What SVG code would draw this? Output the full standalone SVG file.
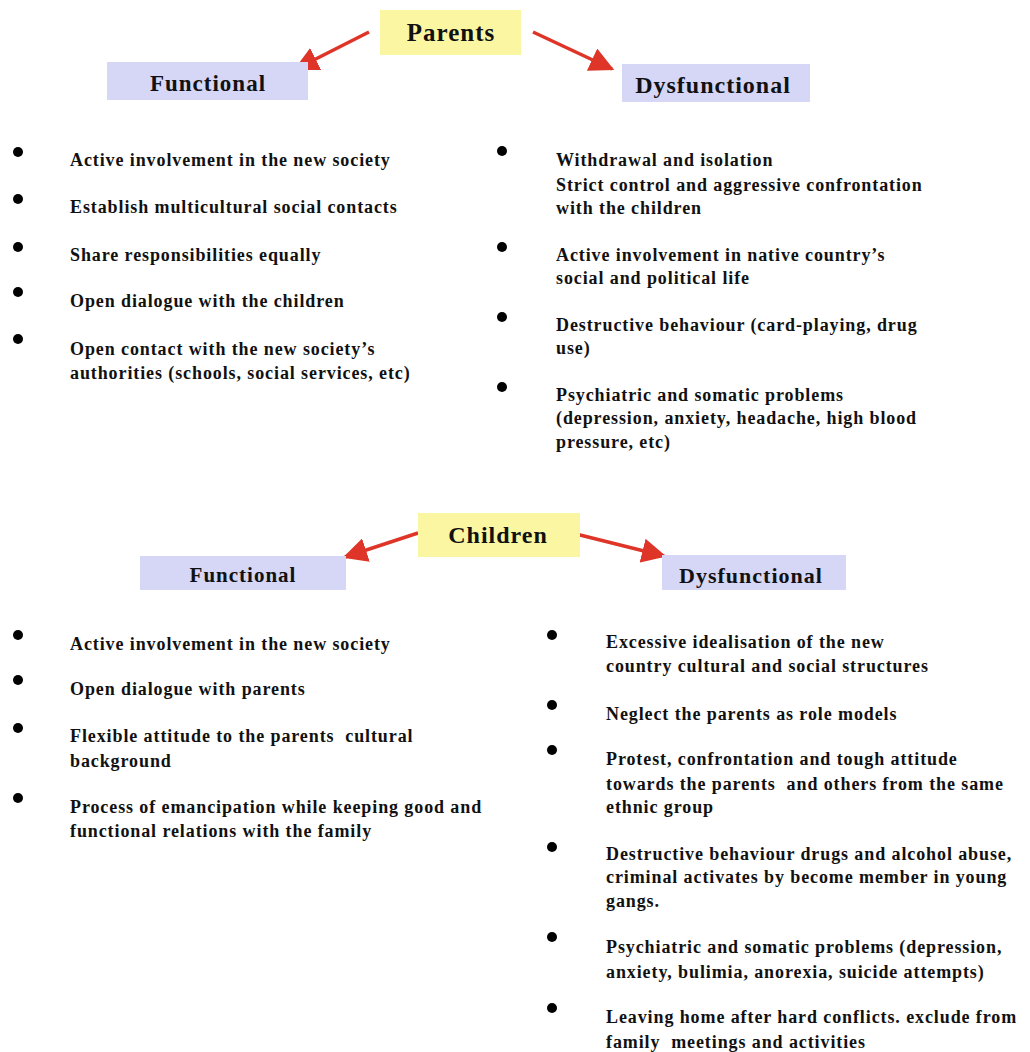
<svg xmlns="http://www.w3.org/2000/svg" width="1030" height="1052" viewBox="0 0 1030 1052">
<defs>
<style>
.hdr{font-family:"Liberation Serif","Times New Roman",serif;font-weight:bold;fill:#111;text-anchor:middle;letter-spacing:1px}
.t{font-family:"Liberation Serif","Times New Roman",serif;font-weight:bold;font-size:18px;fill:#111;letter-spacing:0.9px}
.yel{fill:#faf6a2}
.lav{fill:#d6d6f6}
.dot{fill:#000}
.arr{stroke:#de3528;stroke-width:3.5;fill:none;marker-end:url(#ah)}
</style>
<marker id="ah" viewBox="0 0 10 10" refX="9" refY="5" markerWidth="7" markerHeight="7" orient="auto" markerUnits="strokeWidth">
<path d="M0,0 L10,5 L0,10 z" fill="#de3528"/>
</marker>
</defs>
<rect width="1030" height="1052" fill="#fff"/>

<g id="connectors">
<line class="arr" x1="369" y1="32" x2="296" y2="69"/>
<line class="arr" x1="533" y1="32" x2="612" y2="69"/>
<line class="arr" x1="418" y1="533" x2="345" y2="557"/>
<line class="arr" x1="572" y1="533" x2="664" y2="556"/>
</g>

<g id="parents">
<rect class="yel" x="380" y="10" width="141" height="45"/>
<text class="hdr" x="451" y="41" font-size="25">Parents</text>
</g>
<g id="parents-functional">
<rect class="lav" x="107" y="62" width="201" height="38"/>
<text class="hdr" x="208" y="91" font-size="23">Functional</text>
</g>
<g id="parents-dysfunctional">
<rect class="lav" x="622" y="64" width="188" height="38"/>
<text class="hdr" x="713" y="93" font-size="24">Dysfunctional</text>
</g>

<g id="parents-functional-list">
<circle class="dot" cx="18" cy="152" r="5"/>
<text class="t" x="70" y="166">Active involvement in the new society</text>
<circle class="dot" cx="18" cy="199" r="5"/>
<text class="t" x="70" y="213">Establish multicultural social contacts</text>
<circle class="dot" cx="18" cy="247" r="5"/>
<text class="t" x="70" y="261">Share responsibilities equally</text>
<circle class="dot" cx="18" cy="292" r="5"/>
<text class="t" x="70" y="307">Open dialogue with the children</text>
<circle class="dot" cx="18" cy="339" r="5"/>
<text class="t" x="70" y="355">Open contact with the new society’s</text>
<text class="t" x="70" y="379">authorities (schools, social services, etc)</text>
</g>

<g id="parents-dysfunctional-list">
<circle class="dot" cx="502" cy="151" r="5"/>
<text class="t" x="556" y="166">Withdrawal and isolation</text>
<text class="t" x="556" y="191">Strict control and aggressive confrontation</text>
<text class="t" x="556" y="214">with the children</text>
<circle class="dot" cx="502" cy="247" r="5"/>
<text class="t" x="556" y="261">Active involvement in native country’s</text>
<text class="t" x="556" y="284">social and political life</text>
<circle class="dot" cx="502" cy="317" r="5"/>
<text class="t" x="556" y="331">Destructive behaviour (card-playing, drug</text>
<text class="t" x="556" y="354">use)</text>
<circle class="dot" cx="502" cy="387" r="5"/>
<text class="t" x="556" y="401">Psychiatric and somatic problems</text>
<text class="t" x="556" y="424">(depression, anxiety, headache, high blood</text>
<text class="t" x="556" y="448">pressure, etc)</text>
</g>

<g id="children">
<rect class="yel" x="418" y="513" width="162" height="44"/>
<text class="hdr" x="498" y="543" font-size="24">Children</text>
</g>
<g id="children-functional">
<rect class="lav" x="140" y="556" width="206" height="34"/>
<text class="hdr" x="243" y="582" font-size="21">Functional</text>
</g>
<g id="children-dysfunctional">
<rect class="lav" x="662" y="555" width="184" height="35"/>
<text class="hdr" x="751" y="583" font-size="22">Dysfunctional</text>
</g>

<g id="children-functional-list">
<circle class="dot" cx="18" cy="635" r="5"/>
<text class="t" x="70" y="650">Active involvement in the new society</text>
<circle class="dot" cx="18" cy="680" r="5"/>
<text class="t" x="70" y="695">Open dialogue with parents</text>
<circle class="dot" cx="18" cy="728" r="5"/>
<text class="t" x="70" y="742" xml:space="preserve">Flexible attitude to the parents  cultural</text>
<text class="t" x="70" y="767">background</text>
<circle class="dot" cx="18" cy="798" r="5"/>
<text class="t" x="70" y="813">Process of emancipation while keeping good and</text>
<text class="t" x="70" y="837">functional relations with the family</text>
</g>

<g id="children-dysfunctional-list">
<circle class="dot" cx="552" cy="635" r="5"/>
<text class="t" x="606" y="648">Excessive idealisation of the new</text>
<text class="t" x="606" y="672">country cultural and social structures</text>
<circle class="dot" cx="552" cy="705" r="5"/>
<text class="t" x="606" y="720">Neglect the parents as role models</text>
<circle class="dot" cx="552" cy="750" r="5"/>
<text class="t" x="606" y="765">Protest, confrontation and tough attitude</text>
<text class="t" x="606" y="790" xml:space="preserve">towards the parents  and others from the same</text>
<text class="t" x="606" y="813">ethnic group</text>
<circle class="dot" cx="552" cy="847" r="5"/>
<text class="t" x="606" y="860">Destructive behaviour drugs and alcohol abuse,</text>
<text class="t" x="606" y="883">criminal activates by become member in young</text>
<text class="t" x="606" y="907">gangs.</text>
<circle class="dot" cx="552" cy="937" r="5"/>
<text class="t" x="606" y="953">Psychiatric and somatic problems (depression,</text>
<text class="t" x="606" y="978">anxiety, bulimia, anorexia, suicide attempts)</text>
<circle class="dot" cx="552" cy="1008" r="5"/>
<text class="t" x="606" y="1023">Leaving home after hard conflicts. exclude from</text>
<text class="t" x="606" y="1048" xml:space="preserve">family  meetings and activities</text>
</g>
</svg>
